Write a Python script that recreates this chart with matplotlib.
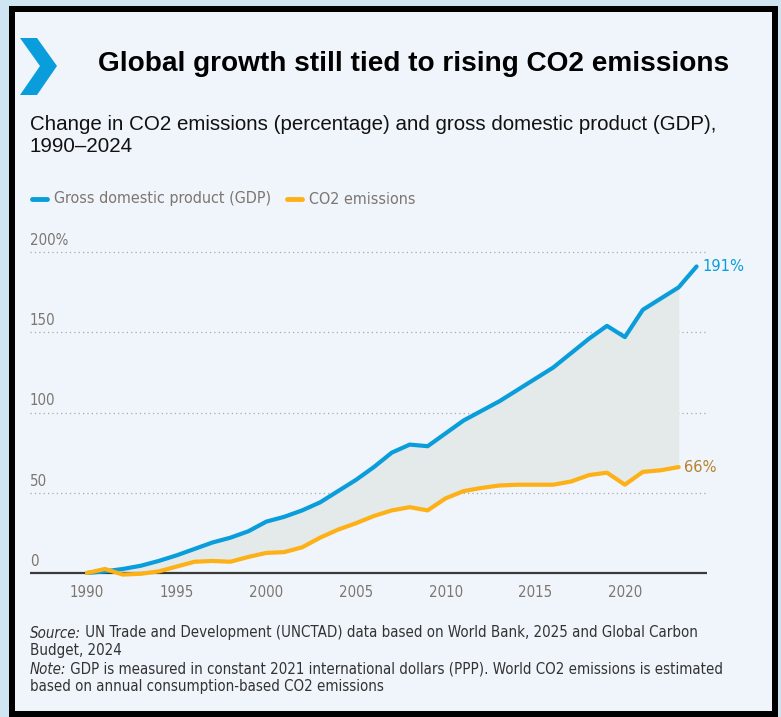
import matplotlib
matplotlib.use('Agg')
import matplotlib.pyplot as plt
from matplotlib.patches import Rectangle, Polygon
from matplotlib.lines import Line2D

# データ
years_gdp = list(range(1990, 2025))
gdp = [0, 1, 2.5, 4.5, 7.5, 11, 15, 19, 22, 26, 32, 35, 39, 44, 51, 58, 66, 75, 80, 79,
       87, 95, 101, 107, 114, 121, 128, 137, 146, 154, 147, 164, 171, 178, 191]
years_co2 = list(range(1990, 2024))
co2 = [0, 2.5, -1, -0.5, 1, 4, 7, 7.5, 7, 10, 12.5, 13, 16, 22, 27, 31, 35.5, 39, 41, 39,
       46.5, 51, 53, 54.5, 55, 55, 55, 57, 61, 62.5, 55, 63, 64, 66]
yticks = [0, 50, 100, 150, 200]
ytick_labels = ['0', '50', '100', '150', '200%']
xticks = [1990, 1995, 2000, 2005, 2010, 2015, 2020]

BLUE = '#0a9ddb'
ORANGE = '#fdb116'
ORANGE_TXT = '#b5832e'
GRAY_TXT = '#7d7671'
BG = '#eff5fa'
COND = dict(family='DejaVu Sans', stretch='condensed')
SANS = ['Liberation Sans', 'DejaVu Sans']

W, H = 781, 717
fig = plt.figure(figsize=(W / 100, H / 100), dpi=100)
fig.patch.set_facecolor('#cfe5f1')

def fx(px):
    return px / W

def fy(py):
    return 1 - py / H

# 枠と背景
fig.patches.append(Rectangle((fx(9), fy(717)), fx(769), 711 / H, transform=fig.transFigure,
                             facecolor='black', edgecolor='none', zorder=-3))
fig.patches.append(Rectangle((fx(15), fy(711)), fx(757), 699 / H, transform=fig.transFigure,
                             facecolor=BG, edgecolor='none', zorder=-2))

# シェブロン
chev = [(20, 38), (37, 38), (57, 66), (37, 95), (20, 95), (40, 66)]
fig.patches.append(Polygon([(fx(x), fy(y)) for x, y in chev], closed=True, transform=fig.transFigure,
                           facecolor=BLUE, edgecolor='none', zorder=1))

# タイトル
fig.text(fx(98), fy(64), 'Global growth still tied to rising CO2 emissions', family=SANS,
         fontsize=20.2, fontweight='bold', va='center', ha='left', color='black')
fig.text(fx(30), fy(125), 'Change in CO2 emissions (percentage) and gross domestic product (GDP),',
         family=SANS, fontsize=14.8, va='center', ha='left', color='#111111')
fig.text(fx(30), fy(147), '1990\u20132024', family=SANS, fontsize=14.8, va='center', ha='left',
         color='#111111')

# 凡例
fig.lines.append(Line2D([fx(32), fx(47)], [fy(199), fy(199)], transform=fig.transFigure,
                        color=BLUE, lw=3.5, solid_capstyle='round'))
fig.text(fx(54), fy(199), 'Gross domestic product (GDP)', fontsize=11.5,
         va='center', ha='left', color=GRAY_TXT, **COND)
fig.lines.append(Line2D([fx(287), fx(302)], [fy(199), fy(199)], transform=fig.transFigure,
                        color=ORANGE, lw=3.5, solid_capstyle='round'))
fig.text(fx(309), fy(199), 'CO2 emissions', fontsize=11.5,
         va='center', ha='left', color=GRAY_TXT, **COND)

# グラフ本体
x0, x1 = 30, 707
ax = fig.add_axes([fx(x0), fy(581), fx(x1 - x0), 337 / H])
ax.set_facecolor('none')
ax.set_xlim(1986.82, 2024.58)
ax.set_ylim(-5, 205)
for s in ax.spines.values():
    s.set_visible(False)

for v in yticks[1:]:
    ax.axhline(v, color='#a9a9a9', lw=0.9, ls=(0, (1, 2.5)), zorder=1)
ax.axhline(0, color='#3a3a3a', lw=1.6, zorder=4)

ax.fill_between(years_co2, co2, gdp[:len(years_co2)], color='#e4e9ea', zorder=2, lw=0)
ax.plot(years_gdp, gdp, color=BLUE, lw=3, solid_capstyle='round', solid_joinstyle='round', zorder=5)
ax.plot(years_co2, co2, color=ORANGE, lw=3, solid_capstyle='round', solid_joinstyle='round', zorder=5)

for v, lab in zip(yticks, ytick_labels):
    ax.annotate(lab, (0, v), xycoords=('axes fraction', 'data'), xytext=(0, 3),
                textcoords='offset points', ha='left', va='bottom',
                fontsize=10.8, color=GRAY_TXT, **COND)

ax.set_yticks([])
ax.set_xticks(xticks)
ax.set_xticklabels([str(x) for x in xticks], fontsize=10.8, color=GRAY_TXT, **COND)
ax.tick_params(axis='x', length=0, pad=3)

ax.annotate('191%', (years_gdp[-1], gdp[-1]), xytext=(4, 0), textcoords='offset points',
            ha='left', va='center', fontsize=11.8, color=BLUE, **COND)
ax.annotate('66%', (years_co2[-1], co2[-1]), xytext=(4, 0), textcoords='offset points',
            ha='left', va='center', fontsize=11.8, color=ORANGE_TXT, **COND)

# 出典・注記
foot = [
    (633, 'Source:', ' UN Trade and Development (UNCTAD) data based on World Bank, 2025 and Global Carbon'),
    (651, None, 'Budget, 2024'),
    (669, 'Note:', ' GDP is measured in constant 2021 international dollars (PPP). World CO2 emissions is estimated'),
    (687, None, 'based on annual consumption-based CO2 emissions'),
]
renderer = fig.canvas.get_renderer()
for py, ital, rest in foot:
    xpos = fx(30)
    if ital:
        t = fig.text(xpos, fy(py), ital, fontsize=10.8, style='italic', va='center',
                     color='#333333', **COND)
        xpos = t.get_window_extent(renderer=renderer).x1 / W
    fig.text(xpos, fy(py), rest, fontsize=10.8, va='center', color='#333333', **COND)

fig.savefig('out.png', dpi=100, facecolor=fig.get_facecolor())
